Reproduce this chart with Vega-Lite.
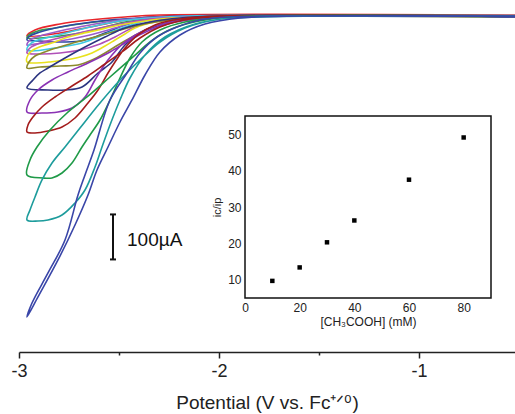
{
  "$schema": "https://vega.github.io/schema/vega-lite/v6.json",
  "width": 496,
  "height": 347,
  "autosize": {"type": "none"},
  "padding": {"left": 19, "top": 5, "right": 0, "bottom": 62},
  "config": {
    "view": {"stroke": null},
    "font": "Liberation Sans",
    "axis": {"grid": false, "labelFont": "Liberation Sans", "titleFont": "Liberation Sans", "labelColor": "#222", "titleColor": "#222", "titleFontWeight": "normal"}
  },
  "resolve": {"scale": {"x": "independent", "y": "independent", "color": "independent"}, "axis": {"x": "independent", "y": "independent"}},
  "layer": [
    {
      "encoding": {
        "x": {"field": "v", "type": "quantitative",
          "scale": {"domain": [-3, -0.52], "nice": false, "zero": false},
          "axis": {"values": [-3, -2.5, -2, -1.5, -1], "orient": "bottom",
            "labelExpr": "datum.value % 1 === 0 ? '' + datum.value : ''",
            "tickSize": {"condition": {"test": "datum.value % 1 !== 0", "value": 3}, "value": 6},
            "domainWidth": 1.5, "tickWidth": 1.5, "domainColor": "#222", "tickColor": "#222",
            "labelFontSize": 18, "labelPadding": 4, "labelFlush": false,
            "title": "Potential (V vs. Fc⁺ᐟ⁰)", "titleFontSize": 19, "titlePadding": 13}},
        "y": {"field": "i", "type": "quantitative",
          "scale": {"domain": [-746.7, 24.4], "nice": false, "zero": false},
          "axis": null}
      },
      "layer": [
        {
          "data": {"values": [
            {"c":"k03","o":1,"v":-0.52,"i":2.2},{"c":"k03","o":2,"v":-2.295,"i":2.2},{"c":"k03","o":3,"v":-2.47,"i":-2.2},{"c":"k03","o":4,"v":-2.645,"i":-8.9},{"c":"k03","o":5,"v":-2.795,"i":-17.8},{"c":"k03","o":6,"v":-2.92,"i":-31.1},{"c":"k03","o":7,"v":-2.96,"i":-44.4},{"c":"k03","o":8,"v":-2.795,"i":-37.8},{"c":"k03","o":9,"v":-2.645,"i":-24.4},{"c":"k03","o":10,"v":-2.495,"i":-11.1},{"c":"k03","o":11,"v":-2.395,"i":-4.4},{"c":"k03","o":12,"v":-2.195,"i":0},{"c":"k03","o":13,"v":-0.52,"i":1},

            {"c":"k01","o":1,"v":-0.52,"i":0},{"c":"k01","o":2,"v":-2.045,"i":0},{"c":"k01","o":3,"v":-2.245,"i":-2.2},{"c":"k01","o":4,"v":-2.445,"i":-6.7},{"c":"k01","o":5,"v":-2.57,"i":-11.1},{"c":"k01","o":6,"v":-2.695,"i":-17.8},{"c":"k01","o":7,"v":-2.82,"i":-26.7},{"c":"k01","o":8,"v":-2.905,"i":-33.3},{"c":"k01","o":9,"v":-2.95,"i":-42.2},{"c":"k01","o":10,"v":-2.96,"i":-48.9},{"c":"k01","o":11,"v":-2.895,"i":-48.9},{"c":"k01","o":12,"v":-2.795,"i":-44.4},{"c":"k01","o":13,"v":-2.67,"i":-35.6},{"c":"k01","o":14,"v":-2.57,"i":-24.4},{"c":"k01","o":15,"v":-2.47,"i":-13.3},{"c":"k01","o":16,"v":-2.345,"i":-6.7},{"c":"k01","o":17,"v":-2.145,"i":-2.2},{"c":"k01","o":18,"v":-1.595,"i":0},{"c":"k01","o":19,"v":-0.52,"i":-1},

            {"c":"k02","o":1,"v":-0.52,"i":-1},{"c":"k02","o":2,"v":-2.195,"i":0},{"c":"k02","o":3,"v":-2.395,"i":-4.4},{"c":"k02","o":4,"v":-2.545,"i":-8.9},{"c":"k02","o":5,"v":-2.67,"i":-15.6},{"c":"k02","o":6,"v":-2.795,"i":-24.4},{"c":"k02","o":7,"v":-2.895,"i":-35.6},{"c":"k02","o":8,"v":-2.945,"i":-44.4},{"c":"k02","o":9,"v":-2.96,"i":-53.3},{"c":"k02","o":10,"v":-2.895,"i":-55.6},{"c":"k02","o":11,"v":-2.795,"i":-57.8},{"c":"k02","o":12,"v":-2.695,"i":-55.6},{"c":"k02","o":13,"v":-2.62,"i":-46.7},{"c":"k02","o":14,"v":-2.545,"i":-33.3},{"c":"k02","o":15,"v":-2.47,"i":-20},{"c":"k02","o":16,"v":-2.37,"i":-8.9},{"c":"k02","o":17,"v":-2.195,"i":-2.2},{"c":"k02","o":18,"v":-1.995,"i":0},{"c":"k02","o":19,"v":-0.52,"i":-2},

            {"c":"k04","o":1,"v":-0.52,"i":0.5},{"c":"k04","o":2,"v":-2.095,"i":0},{"c":"k04","o":3,"v":-2.295,"i":-2.2},{"c":"k04","o":4,"v":-2.495,"i":-8.9},{"c":"k04","o":5,"v":-2.645,"i":-20},{"c":"k04","o":6,"v":-2.795,"i":-33.3},{"c":"k04","o":7,"v":-2.895,"i":-44.4},{"c":"k04","o":8,"v":-2.945,"i":-53.3},{"c":"k04","o":9,"v":-2.96,"i":-64.4},{"c":"k04","o":10,"v":-2.92,"i":-62.2},{"c":"k04","o":11,"v":-2.795,"i":-55.6},{"c":"k04","o":12,"v":-2.645,"i":-42.2},{"c":"k04","o":13,"v":-2.52,"i":-26.7},{"c":"k04","o":14,"v":-2.42,"i":-13.3},{"c":"k04","o":15,"v":-2.245,"i":-4.4},{"c":"k04","o":16,"v":-2.045,"i":0},{"c":"k04","o":17,"v":-0.52,"i":-1},

            {"c":"k05","o":1,"v":-0.52,"i":1},{"c":"k05","o":2,"v":-2.145,"i":0},{"c":"k05","o":3,"v":-2.345,"i":-4.4},{"c":"k05","o":4,"v":-2.495,"i":-11.1},{"c":"k05","o":5,"v":-2.62,"i":-22.2},{"c":"k05","o":6,"v":-2.745,"i":-35.6},{"c":"k05","o":7,"v":-2.845,"i":-46.7},{"c":"k05","o":8,"v":-2.92,"i":-55.6},{"c":"k05","o":9,"v":-2.95,"i":-64.4},{"c":"k05","o":10,"v":-2.96,"i":-75.6},{"c":"k05","o":11,"v":-2.935,"i":-77.8},{"c":"k05","o":12,"v":-2.82,"i":-71.1},{"c":"k05","o":13,"v":-2.685,"i":-60},{"c":"k05","o":14,"v":-2.555,"i":-37.8},{"c":"k05","o":15,"v":-2.455,"i":-22.2},{"c":"k05","o":16,"v":-2.345,"i":-8.9},{"c":"k05","o":17,"v":-2.17,"i":-2.2},{"c":"k05","o":18,"v":-1.945,"i":0},{"c":"k05","o":19,"v":-0.52,"i":-1},

            {"c":"k06","o":1,"v":-0.52,"i":0},{"c":"k06","o":2,"v":-1.945,"i":0},{"c":"k06","o":3,"v":-2.145,"i":-2.2},{"c":"k06","o":4,"v":-2.345,"i":-6.7},{"c":"k06","o":5,"v":-2.47,"i":-15.6},{"c":"k06","o":6,"v":-2.595,"i":-26.7},{"c":"k06","o":7,"v":-2.72,"i":-40},{"c":"k06","o":8,"v":-2.82,"i":-51.1},{"c":"k06","o":9,"v":-2.895,"i":-60},{"c":"k06","o":10,"v":-2.945,"i":-71.1},{"c":"k06","o":11,"v":-2.96,"i":-82.2},{"c":"k06","o":12,"v":-2.895,"i":-84.4},{"c":"k06","o":13,"v":-2.795,"i":-82.2},{"c":"k06","o":14,"v":-2.695,"i":-75.6},{"c":"k06","o":15,"v":-2.595,"i":-62.2},{"c":"k06","o":16,"v":-2.52,"i":-46.7},{"c":"k06","o":17,"v":-2.445,"i":-28.9},{"c":"k06","o":18,"v":-2.345,"i":-13.3},{"c":"k06","o":19,"v":-2.195,"i":-4.4},{"c":"k06","o":20,"v":-1.995,"i":0},{"c":"k06","o":21,"v":-0.52,"i":-1.5},

            {"c":"k07","o":1,"v":-0.52,"i":0},{"c":"k07","o":2,"v":-1.895,"i":0},{"c":"k07","o":3,"v":-2.095,"i":-2.2},{"c":"k07","o":4,"v":-2.295,"i":-6.7},{"c":"k07","o":5,"v":-2.435,"i":-15.6},{"c":"k07","o":6,"v":-2.52,"i":-22.2},{"c":"k07","o":7,"v":-2.605,"i":-31.1},{"c":"k07","o":8,"v":-2.695,"i":-40},{"c":"k07","o":9,"v":-2.77,"i":-48.9},{"c":"k07","o":10,"v":-2.82,"i":-57.8},{"c":"k07","o":11,"v":-2.885,"i":-66.7},{"c":"k07","o":12,"v":-2.93,"i":-75.6},{"c":"k07","o":13,"v":-2.955,"i":-86.7},{"c":"k07","o":14,"v":-2.96,"i":-102.2},{"c":"k07","o":15,"v":-2.92,"i":-104.4},{"c":"k07","o":16,"v":-2.845,"i":-102.2},{"c":"k07","o":17,"v":-2.77,"i":-97.8},{"c":"k07","o":18,"v":-2.695,"i":-91.1},{"c":"k07","o":19,"v":-2.635,"i":-82.2},{"c":"k07","o":20,"v":-2.57,"i":-66.7},{"c":"k07","o":21,"v":-2.52,"i":-53.3},{"c":"k07","o":22,"v":-2.47,"i":-40},{"c":"k07","o":23,"v":-2.42,"i":-26.7},{"c":"k07","o":24,"v":-2.32,"i":-13.3},{"c":"k07","o":25,"v":-2.17,"i":-4.4},{"c":"k07","o":26,"v":-1.945,"i":0},{"c":"k07","o":27,"v":-0.52,"i":-2},

            {"c":"k08","o":1,"v":-0.52,"i":0},{"c":"k08","o":2,"v":-1.945,"i":0},{"c":"k08","o":3,"v":-2.145,"i":-4.4},{"c":"k08","o":4,"v":-2.345,"i":-15.6},{"c":"k08","o":5,"v":-2.495,"i":-31.1},{"c":"k08","o":6,"v":-2.62,"i":-46.7},{"c":"k08","o":7,"v":-2.745,"i":-62.2},{"c":"k08","o":8,"v":-2.845,"i":-75.6},{"c":"k08","o":9,"v":-2.92,"i":-88.9},{"c":"k08","o":10,"v":-2.95,"i":-102.2},{"c":"k08","o":11,"v":-2.96,"i":-115.6},{"c":"k08","o":12,"v":-2.895,"i":-113.3},{"c":"k08","o":13,"v":-2.795,"i":-111.1},{"c":"k08","o":14,"v":-2.705,"i":-108.9},{"c":"k08","o":15,"v":-2.635,"i":-97.8},{"c":"k08","o":16,"v":-2.57,"i":-82.2},{"c":"k08","o":17,"v":-2.505,"i":-64.4},{"c":"k08","o":18,"v":-2.435,"i":-46.7},{"c":"k08","o":19,"v":-2.345,"i":-26.7},{"c":"k08","o":20,"v":-2.22,"i":-11.1},{"c":"k08","o":21,"v":-2.045,"i":-2.2},{"c":"k08","o":22,"v":-1.845,"i":0},{"c":"k08","o":23,"v":-0.52,"i":-1},

            {"c":"k09","o":1,"v":-0.52,"i":0},{"c":"k09","o":2,"v":-1.995,"i":0},{"c":"k09","o":3,"v":-2.195,"i":-4.4},{"c":"k09","o":4,"v":-2.345,"i":-13.3},{"c":"k09","o":5,"v":-2.47,"i":-26.7},{"c":"k09","o":6,"v":-2.57,"i":-46.7},{"c":"k09","o":7,"v":-2.67,"i":-68.9},{"c":"k09","o":8,"v":-2.77,"i":-93.3},{"c":"k09","o":9,"v":-2.855,"i":-115.6},{"c":"k09","o":10,"v":-2.895,"i":-126.7},{"c":"k09","o":11,"v":-2.93,"i":-142.2},{"c":"k09","o":12,"v":-2.96,"i":-160},{"c":"k09","o":13,"v":-2.855,"i":-164.4},{"c":"k09","o":14,"v":-2.77,"i":-164.4},{"c":"k09","o":15,"v":-2.685,"i":-157.8},{"c":"k09","o":16,"v":-2.605,"i":-126.7},{"c":"k09","o":17,"v":-2.535,"i":-102.2},{"c":"k09","o":18,"v":-2.47,"i":-64.4},{"c":"k09","o":19,"v":-2.395,"i":-37.8},{"c":"k09","o":20,"v":-2.295,"i":-20},{"c":"k09","o":21,"v":-2.145,"i":-6.7},{"c":"k09","o":22,"v":-1.945,"i":0},{"c":"k09","o":23,"v":-0.52,"i":-1},

            {"c":"k10","o":1,"v":-0.52,"i":0},{"c":"k10","o":2,"v":-1.845,"i":0},{"c":"k10","o":3,"v":-2.045,"i":-4.4},{"c":"k10","o":4,"v":-2.22,"i":-13.3},{"c":"k10","o":5,"v":-2.345,"i":-31.1},{"c":"k10","o":6,"v":-2.445,"i":-53.3},{"c":"k10","o":7,"v":-2.545,"i":-80},{"c":"k10","o":8,"v":-2.655,"i":-104.4},{"c":"k10","o":9,"v":-2.755,"i":-124.4},{"c":"k10","o":10,"v":-2.835,"i":-142.2},{"c":"k10","o":11,"v":-2.905,"i":-164.4},{"c":"k10","o":12,"v":-2.945,"i":-186.7},{"c":"k10","o":13,"v":-2.96,"i":-213.3},{"c":"k10","o":14,"v":-2.885,"i":-215.6},{"c":"k10","o":15,"v":-2.805,"i":-213.3},{"c":"k10","o":16,"v":-2.735,"i":-204.4},{"c":"k10","o":17,"v":-2.67,"i":-180},{"c":"k10","o":18,"v":-2.62,"i":-142.2},{"c":"k10","o":19,"v":-2.58,"i":-113.3},{"c":"k10","o":20,"v":-2.535,"i":-86.7},{"c":"k10","o":21,"v":-2.47,"i":-57.8},{"c":"k10","o":22,"v":-2.37,"i":-31.1},{"c":"k10","o":23,"v":-2.245,"i":-13.3},{"c":"k10","o":24,"v":-2.095,"i":-4.4},{"c":"k10","o":25,"v":-1.895,"i":0},{"c":"k10","o":26,"v":-0.52,"i":-1.5},

            {"c":"k11","o":1,"v":-0.52,"i":0.5},{"c":"k11","o":2,"v":-1.945,"i":0},{"c":"k11","o":3,"v":-2.145,"i":-6.7},{"c":"k11","o":4,"v":-2.295,"i":-24.4},{"c":"k11","o":5,"v":-2.395,"i":-48.9},{"c":"k11","o":6,"v":-2.485,"i":-80},{"c":"k11","o":7,"v":-2.57,"i":-106.7},{"c":"k11","o":8,"v":-2.655,"i":-133.3},{"c":"k11","o":9,"v":-2.735,"i":-155.6},{"c":"k11","o":10,"v":-2.82,"i":-180},{"c":"k11","o":11,"v":-2.885,"i":-202.2},{"c":"k11","o":12,"v":-2.93,"i":-224.4},{"c":"k11","o":13,"v":-2.955,"i":-242.2},{"c":"k11","o":14,"v":-2.96,"i":-257.8},{"c":"k11","o":15,"v":-2.92,"i":-260},{"c":"k11","o":16,"v":-2.855,"i":-255.6},{"c":"k11","o":17,"v":-2.785,"i":-246.7},{"c":"k11","o":18,"v":-2.72,"i":-226.7},{"c":"k11","o":19,"v":-2.655,"i":-193.3},{"c":"k11","o":20,"v":-2.605,"i":-164.4},{"c":"k11","o":21,"v":-2.555,"i":-126.7},{"c":"k11","o":22,"v":-2.52,"i":-102.2},{"c":"k11","o":23,"v":-2.47,"i":-71.1},{"c":"k11","o":24,"v":-2.405,"i":-42.2},{"c":"k11","o":25,"v":-2.32,"i":-20},{"c":"k11","o":26,"v":-2.195,"i":-6.7},{"c":"k11","o":27,"v":-1.995,"i":0},{"c":"k11","o":28,"v":-0.52,"i":-1},

            {"c":"k12","o":1,"v":-0.52,"i":0},{"c":"k12","o":2,"v":-1.795,"i":0},{"c":"k12","o":3,"v":-1.995,"i":-4.4},{"c":"k12","o":4,"v":-2.145,"i":-15.6},{"c":"k12","o":5,"v":-2.26,"i":-33.3},{"c":"k12","o":6,"v":-2.345,"i":-57.8},{"c":"k12","o":7,"v":-2.43,"i":-91.1},{"c":"k12","o":8,"v":-2.545,"i":-135.6},{"c":"k12","o":9,"v":-2.66,"i":-180},{"c":"k12","o":10,"v":-2.76,"i":-215.6},{"c":"k12","o":11,"v":-2.845,"i":-253.3},{"c":"k12","o":12,"v":-2.91,"i":-291.1},{"c":"k12","o":13,"v":-2.945,"i":-320},{"c":"k12","o":14,"v":-2.96,"i":-353.3},{"c":"k12","o":15,"v":-2.88,"i":-360},{"c":"k12","o":16,"v":-2.835,"i":-360},{"c":"k12","o":17,"v":-2.785,"i":-348.9},{"c":"k12","o":18,"v":-2.735,"i":-326.7},{"c":"k12","o":19,"v":-2.685,"i":-291.1},{"c":"k12","o":20,"v":-2.645,"i":-264.4},{"c":"k12","o":21,"v":-2.595,"i":-231.1},{"c":"k12","o":22,"v":-2.545,"i":-186.7},{"c":"k12","o":23,"v":-2.495,"i":-137.8},{"c":"k12","o":24,"v":-2.445,"i":-93.3},{"c":"k12","o":25,"v":-2.385,"i":-57.8},{"c":"k12","o":26,"v":-2.295,"i":-31.1},{"c":"k12","o":27,"v":-2.17,"i":-13.3},{"c":"k12","o":28,"v":-1.995,"i":-4.4},{"c":"k12","o":29,"v":-1.695,"i":0},{"c":"k12","o":30,"v":-0.52,"i":-1},

            {"c":"k13","o":1,"v":-0.52,"i":0},{"c":"k13","o":2,"v":-1.795,"i":-2.2},{"c":"k13","o":3,"v":-2.02,"i":-8.9},{"c":"k13","o":4,"v":-2.17,"i":-26.7},{"c":"k13","o":5,"v":-2.295,"i":-57.8},{"c":"k13","o":6,"v":-2.395,"i":-97.8},{"c":"k13","o":7,"v":-2.495,"i":-142.2},{"c":"k13","o":8,"v":-2.595,"i":-193.3},{"c":"k13","o":9,"v":-2.695,"i":-248.9},{"c":"k13","o":10,"v":-2.77,"i":-291.1},{"c":"k13","o":11,"v":-2.835,"i":-326.7},{"c":"k13","o":12,"v":-2.885,"i":-364.4},{"c":"k13","o":13,"v":-2.92,"i":-402.2},{"c":"k13","o":14,"v":-2.945,"i":-431.1},{"c":"k13","o":15,"v":-2.96,"i":-453.3},{"c":"k13","o":16,"v":-2.905,"i":-455.6},{"c":"k13","o":17,"v":-2.855,"i":-453.3},{"c":"k13","o":18,"v":-2.785,"i":-442.2},{"c":"k13","o":19,"v":-2.72,"i":-415.6},{"c":"k13","o":20,"v":-2.67,"i":-386.7},{"c":"k13","o":21,"v":-2.62,"i":-335.6},{"c":"k13","o":22,"v":-2.585,"i":-291.1},{"c":"k13","o":23,"v":-2.545,"i":-242.2},{"c":"k13","o":24,"v":-2.495,"i":-186.7},{"c":"k13","o":25,"v":-2.445,"i":-137.8},{"c":"k13","o":26,"v":-2.37,"i":-86.7},{"c":"k13","o":27,"v":-2.27,"i":-46.7},{"c":"k13","o":28,"v":-2.12,"i":-17.8},{"c":"k13","o":29,"v":-1.945,"i":-4.4},{"c":"k13","o":30,"v":-1.595,"i":0},{"c":"k13","o":31,"v":-0.52,"i":-1},

            {"c":"k14","o":1,"v":-0.52,"i":0},{"c":"k14","o":2,"v":-1.595,"i":0},{"c":"k14","o":3,"v":-1.945,"i":-2.2},{"c":"k14","o":4,"v":-2.095,"i":-8.9},{"c":"k14","o":5,"v":-2.21,"i":-24.4},{"c":"k14","o":6,"v":-2.31,"i":-46.7},{"c":"k14","o":7,"v":-2.395,"i":-82.2},{"c":"k14","o":8,"v":-2.46,"i":-126.7},{"c":"k14","o":9,"v":-2.545,"i":-186.7},{"c":"k14","o":10,"v":-2.625,"i":-297.8},{"c":"k14","o":11,"v":-2.67,"i":-353.3},{"c":"k14","o":12,"v":-2.705,"i":-397.8},{"c":"k14","o":13,"v":-2.77,"i":-497.8},{"c":"k14","o":14,"v":-2.855,"i":-571.1},{"c":"k14","o":15,"v":-2.935,"i":-637.8},{"c":"k14","o":16,"v":-2.96,"i":-668.9},{"c":"k14","o":17,"v":-2.905,"i":-624.4},{"c":"k14","o":18,"v":-2.805,"i":-542.2},{"c":"k14","o":19,"v":-2.72,"i":-464.4},{"c":"k14","o":20,"v":-2.655,"i":-397.8},{"c":"k14","o":21,"v":-2.61,"i":-342.2},{"c":"k14","o":22,"v":-2.555,"i":-291.1},{"c":"k14","o":23,"v":-2.495,"i":-235.6},{"c":"k14","o":24,"v":-2.435,"i":-186.7},{"c":"k14","o":25,"v":-2.37,"i":-131.1},{"c":"k14","o":26,"v":-2.295,"i":-80},{"c":"k14","o":27,"v":-2.195,"i":-42.2},{"c":"k14","o":28,"v":-2.07,"i":-17.8},{"c":"k14","o":29,"v":-1.895,"i":-4.4},{"c":"k14","o":30,"v":-1.595,"i":0},{"c":"k14","o":31,"v":-0.52,"i":-2}
          ]},
          "mark": {"type": "line", "strokeWidth": 1.6, "interpolate": "catmull-rom"},
          "encoding": {
            "color": {"field": "c", "type": "nominal", "legend": null,
              "scale": {"domain": ["k03","k01","k02","k04","k05","k06","k07","k08","k09","k10","k11","k12","k13","k14"],
                "range": ["#e8262b","#3a9b4a","#2b4aa0","#9a5bc8","#3ec8e0","#b050b8","#e8e11e","#8c8a2c","#2b3480","#8a32b4","#a31c1c","#1f9a48","#1d9c9c","#3a46a8"]}},
            "order": {"field": "o", "type": "quantitative"}
          }
        },
        {
          "data": {"values": [{"v": -2.53, "i": -441, "i2": -541}]},
          "mark": {"type": "rule", "color": "#111", "strokeWidth": 2},
          "encoding": {"y2": {"field": "i2"}}
        },
        {
          "data": {"values": [{"v": -2.545, "v2": -2.515, "i": -441}, {"v": -2.545, "v2": -2.515, "i": -541}]},
          "mark": {"type": "rule", "color": "#111", "strokeWidth": 2},
          "encoding": {"x2": {"field": "v2"}}
        },
        {
          "data": {"values": [{"v": -2.46, "i": -498, "t": "100µA"}]},
          "mark": {"type": "text", "align": "left", "baseline": "middle", "fontSize": 19, "color": "#111", "font": "Liberation Sans"},
          "encoding": {"text": {"field": "t"}}
        }
      ]
    },
    {
      "encoding": {
        "x": {"field": "a", "type": "quantitative",
          "scale": {"domain": [0, 90], "range": [226, 472], "nice": false, "zero": false},
          "axis": {"orient": "bottom", "offset": -54, "values": [0, 20, 40, 60, 80], "domain": false, "ticks": false,
            "labelFontSize": 12, "labelPadding": 4, "labelFlush": false,
            "title": "[CH₃COOH] (mM)", "titleFontSize": 12, "titlePadding": 3}},
        "y": {"field": "r", "type": "quantitative",
          "scale": {"domain": [5, 55], "range": [293, 111], "nice": false, "zero": false},
          "axis": {"orient": "left", "offset": -226, "values": [10, 20, 30, 40, 50], "domain": false, "ticks": false,
            "labelFontSize": 12, "labelPadding": 4,
            "title": "ic/ip", "titleFontSize": 11, "titlePadding": 5}}
      },
      "layer": [
        {
          "data": {"values": [{"a": 0, "a2": 90, "r": 5, "r2": 55}]},
          "mark": {"type": "rect", "fillOpacity": 0, "stroke": "#111", "strokeWidth": 1.5},
          "encoding": {"x2": {"field": "a2"}, "y2": {"field": "r2"}}
        },
        {
          "data": {"values": [
            {"a": 10, "r": 9.7}, {"a": 20, "r": 13.4}, {"a": 30, "r": 20.3},
            {"a": 40, "r": 26.3}, {"a": 60, "r": 37.5}, {"a": 80, "r": 49.1}
          ]},
          "mark": {"type": "square", "size": 20, "color": "#000", "opacity": 1}
        }
      ]
    }
  ]
}
